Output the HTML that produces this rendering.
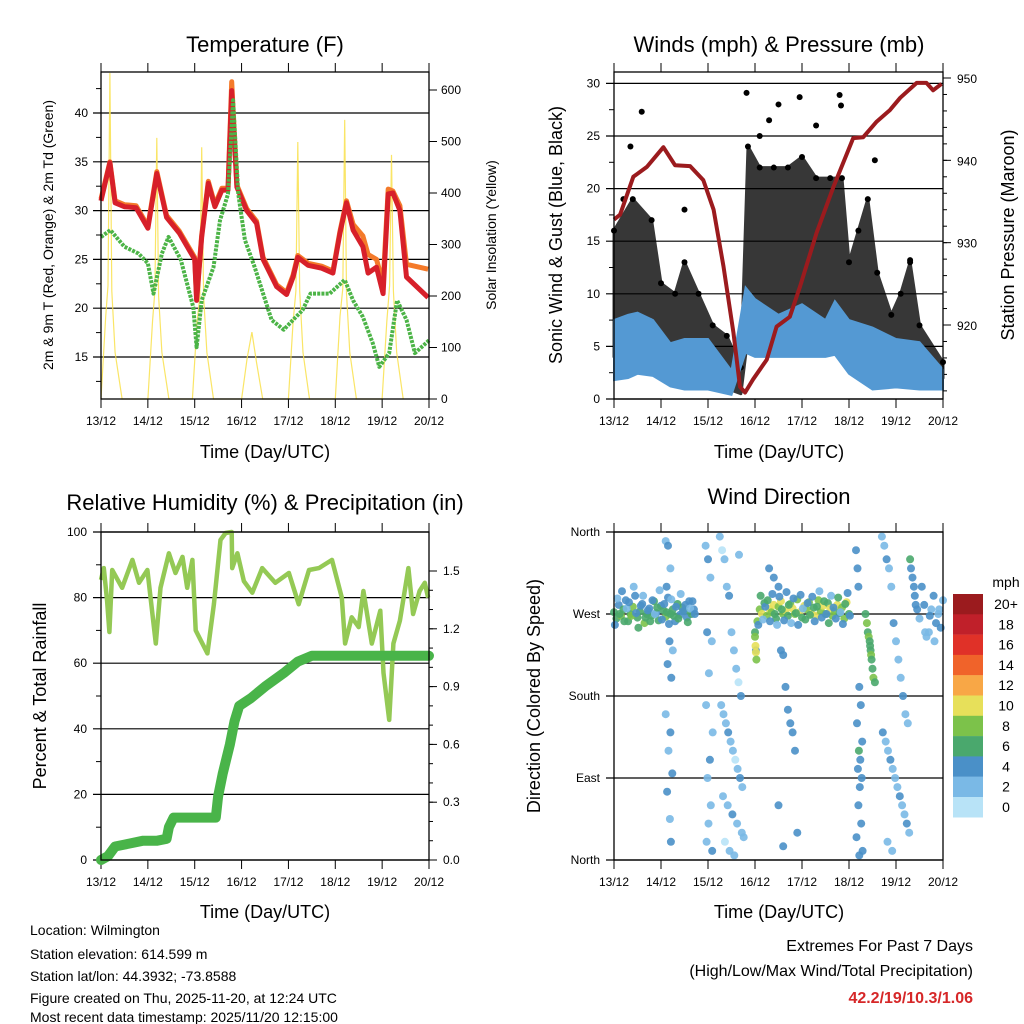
<!DOCTYPE html>
<html><head><meta charset="utf-8"><style>
html,body{margin:0;padding:0;background:#fff;}
svg{display:block;font-family:"Liberation Sans",Arial,sans-serif;}
</style></head><body>
<svg id="c" width="1024" height="1024" viewBox="0 0 1024 1024" xmlns="http://www.w3.org/2000/svg">
<g id="g"></g>
<g font-size="14" fill="#000">
<text x="30" y="935">Location: Wilmington</text>
<text x="30" y="959">Station elevation: 614.599 m</text>
<text x="30" y="981">Station lat/lon: 44.3932; -73.8588</text>
<text x="30" y="1003">Figure created on Thu, 2025-11-20, at 12:24 UTC</text>
<text x="30" y="1022">Most recent data timestamp: 2025/11/20 12:15:00</text>
</g>
<g text-anchor="end">
<text x="973" y="951" font-size="16">Extremes For Past 7 Days</text>
<text x="973" y="976" font-size="16">(High/Low/Max Wind/Total Precipitation)</text>
<text x="973" y="1003" font-size="16" font-weight="bold" fill="#d62728">42.2/19/10.3/1.06</text>
</g>
</svg>
<script>
// ---------- DATA ----------
const dayLabels = ["13/12","14/12","15/12","16/12","17/12","18/12","19/12","20/12"];
// Temperature
const tempT = [0,0.19,0.3,0.5,0.75,1.0,1.19,1.4,1.67,2.0,2.04,2.15,2.29,2.43,2.58,2.71,2.79,2.9,3.11,3.32,3.46,3.75,3.96,4.1,4.2,4.42,4.71,4.95,5.1,5.24,5.38,5.59,5.7,5.88,6.02,6.13,6.23,6.38,6.52,6.98];
const temp2m = [31,34.9,30.8,30.4,30.3,28.2,33.8,29.3,27.7,25,20.8,27.3,32.8,30.4,32.1,32.1,42.3,32.4,30,28.7,25,22.2,21.4,23.2,25.2,24.4,24.1,23.6,27.7,30.8,28,26.3,23.6,24.2,21.5,31.7,31.8,30,23.2,21.1];
const temp9m = [31.2,35,31,30.6,30.5,28.4,34,29.5,27.9,25.2,21,27.5,33,30.6,32.3,32.3,43.2,32.6,30.2,28.9,25.2,22.4,21.6,23.4,25.4,24.6,24.3,23.8,27.9,31,28.6,27.4,25.5,25,22.5,32.2,32,30.5,24.5,24];
const dewT = [0,0.2,0.5,0.8,1.0,1.12,1.3,1.44,1.7,1.97,2.04,2.15,2.4,2.54,2.71,2.82,2.93,3.07,3.28,3.46,3.64,3.9,4.1,4.3,4.47,4.71,4.88,5.2,5.38,5.59,5.8,5.94,6.15,6.32,6.52,6.7,7.0];
const dewpt = [27.3,28,26.3,25.6,24.6,21.5,25.6,27.3,25,20.1,16,20.8,24.2,29,31.7,41.3,31.7,27,24.2,21.5,18.8,17.8,18.8,19.8,21.5,21.5,21.5,22.9,20.8,19.1,16.4,14,15.4,20.8,18.8,15.4,16.7];
const solarT = [0,0.1,0.15,0.19,0.23,0.3,0.45,1.0,1.1,1.15,1.19,1.23,1.3,1.45,1.95,2.05,2.11,2.15,2.19,2.26,2.4,3.0,3.12,3.22,3.32,3.45,4.0,4.1,4.16,4.2,4.24,4.31,4.45,5.0,5.1,5.16,5.2,5.24,5.31,5.45,6.0,6.1,6.16,6.2,6.24,6.31,6.45];
const solarV = [0,160,220,633,210,90,0,0,150,210,507,200,90,0,0,150,200,489,200,90,0,0,80,130,70,0,0,150,210,499,210,90,0,0,160,215,542,205,90,0,0,150,220,474,210,90,0];
// Winds
const gustT = [0,0.4,0.8,1.0,1.3,1.5,1.8,2.1,2.4,2.7,2.85,3.1,3.4,3.7,4.0,4.3,4.6,4.85,5.0,5.2,5.4,5.6,5.9,6.1,6.3,6.5,7.0];
const gustLo = [4,5,8,6,3,4,3,2,1,0.5,6,7,7,8,8,7,6,6,5,6,6,3,3,4,3,2,2];
const gustHi = [16,19,17,11,10,13,10,7,6,3,24,22,22,22,23,21,21,21,13,16,19,12,8,10,13,7,3.5];
const outT = [0.59,2.82,3.5,3.95,4.8,4.83,0.35,1.5,3.3,5.55,6.3,3.1,4.3,0.2];
const outV = [27.3,29.1,28,28.7,28.9,27.9,24,18,26.5,22.7,13.2,25,26,19];
const sonicT = [0,0.3,0.5,0.83,1.2,1.5,2.0,2.5,2.8,3.0,3.5,4.0,4.5,4.7,5.0,5.5,6.0,6.5,7.0];
const sonicLo = [1.8,2,2.4,2.2,1.2,0.9,0.9,0.4,4.4,4,4,4,4,4.2,2.4,0.9,1.1,0.9,0.9];
const sonicHi = [7.5,8,8.2,7.5,5.3,5.7,5.7,2.7,10.6,9.5,8,9,7.5,9.3,7.5,6.8,5.7,5.4,2.8];
const presT = [0,0.13,0.41,0.7,1.05,1.3,1.62,1.9,2.12,2.33,2.54,2.68,2.79,2.96,3.25,3.46,3.74,3.96,4.31,4.67,5.09,5.3,5.59,5.87,6.09,6.44,6.65,6.79,6.97];
const presMb = [932.8,933.4,938,939.2,941.6,939.4,939.3,937.6,934,927.1,919.1,912.5,911.8,913.4,915.8,919.8,921,924.7,931.2,936.8,942.7,942.8,944.7,946.1,947.6,949.4,949.4,948.5,949.3];
// Humidity & precip
const rhT = [0,0.06,0.13,0.18,0.24,0.45,0.67,0.81,0.99,1.17,1.27,1.45,1.59,1.74,1.84,1.95,2.02,2.27,2.41,2.55,2.66,2.79,2.8,2.91,3.05,3.23,3.44,3.72,4.01,4.22,4.44,4.65,4.93,5.14,5.21,5.35,5.5,5.6,5.78,5.96,6.03,6.15,6.24,6.38,6.56,6.66,6.8,6.91,6.98];
const rhV = [85.4,89,79,69.5,88.4,83,91.5,84.5,88.4,66,83,93.5,87.5,92.4,83,91.5,70,63,78,97.6,99.7,100,89,93.5,85,81.5,89,84.5,87.5,78,88.4,89,91.5,80,66,74,71,82,66,76,57,42.7,66,73,89,75,82,84.5,80];
const prT = [0,0.15,0.3,0.5,0.9,1.2,1.4,1.45,1.55,2.45,2.5,2.6,2.75,2.85,2.95,3.2,3.5,3.9,4.2,4.5,7.0];
const prV = [0,0.02,0.07,0.08,0.1,0.1,0.11,0.17,0.22,0.22,0.33,0.45,0.6,0.72,0.8,0.84,0.9,0.97,1.03,1.06,1.06];
// Wind direction (dense bands + scattered columns)
const bandAT = [0,0.05,0.1,0.15,0.2,0.25,0.3,0.35,0.4,0.45,0.5,0.55,0.6,0.65,0.7,0.75,0.8,0.85,0.9,0.95,1.0,1.05,1.1,1.15,1.2,1.25,1.3,1.35,1.4,1.45,1.5,1.55,1.6,1.65,1.7,0.02,0.07,0.12,0.17,0.22,0.27,0.32,0.37,0.42,0.47,0.52,0.57,0.62,0.67,0.72,0.77,0.82,0.87,0.92,0.97,1.02,1.07,1.12,1.17,1.22,1.27,1.32,1.37,1.42,1.47,1.52,1.57,1.62,1.67,1.72];
const bandADir = [272,265,280,268,275,285,262,270,278,290,266,273,281,260,270,276,268,284,271,263,279,274,267,288,270,275,262,281,269,277,273,266,284,270,275,258,287,270,295,262,276,283,268,300,271,255,279,290,266,274,262,285,270,277,296,264,281,272,259,286,268,278,265,292,273,280,261,276,284,270];
const bandASpd = [5,6,4,7,5,3,6,5,8,4,6,5,3,7,5,4,6,5,3,6,4,5,7,3,5,6,4,5,3,6,5,4,3,5,4,3,2,5,4,6,2,3,7,2,4,5,3,2,6,4,5,3,2,6,2,4,3,5,4,2,6,3,5,2,4,3,6,2,4,3];
const bandBT = [3.0,3.05,3.1,3.15,3.2,3.25,3.3,3.35,3.4,3.45,3.5,3.55,3.6,3.65,3.7,3.75,3.8,3.85,3.9,3.95,4.0,4.05,4.1,4.15,4.2,4.25,4.3,4.35,4.4,4.45,4.5,4.55,4.6,4.65,4.7,4.75,4.8,4.85,4.9,4.95,5.0,3.02,3.07,3.12,3.17,3.22,3.27,3.32,3.37,3.42,3.47,3.52,3.57,3.62,3.67,3.72,3.77,3.82,3.87,3.92,3.97,4.02,4.07,4.12,4.17,4.22,4.27,4.32,4.37,4.42,4.47,4.52,4.57,4.62,4.67,4.72,4.77,4.82,4.87,4.92,4.97,5.02,3.0,3.01,3.02,3.03];
const bandBDir = [250,262,275,270,282,268,276,272,280,265,278,284,270,274,268,281,276,270,286,272,266,279,275,283,270,277,268,285,273,279,270,282,276,268,274,280,271,277,265,283,270,230,258,290,264,278,285,262,292,270,258,289,275,263,294,280,260,287,271,258,291,276,264,282,269,289,262,278,295,266,284,270,260,290,277,265,288,272,259,281,293,268,245,235,228,220];
const bandBSpd = [6,8,7,9,6,8,10,7,9,6,8,9,7,10,6,8,9,7,8,10,6,9,7,8,9,6,10,7,8,9,7,6,9,8,7,10,6,8,7,9,6,4,3,5,2,4,6,3,4,5,2,3,6,4,3,5,2,4,6,3,4,2,5,3,6,4,3,5,2,4,6,3,5,2,4,3,5,2,4,6,3,4,8,9,10,8];
const colT = [1.1,1.15,1.2,1.12,1.18,1.25,1.14,1.22,1.1,1.2,1.16,1.24,1.13,1.19,1.21,1.95,2.0,2.05,1.98,2.08,2.02,1.96,2.1,2.04,1.99,2.06,2.01,1.97,2.09,2.25,2.3,2.35,2.4,2.45,2.5,2.55,2.6,2.65,2.7,2.28,2.33,2.38,2.43,2.48,2.53,2.58,2.63,2.68,2.73,2.32,2.42,2.52,2.62,2.72,2.36,2.46,2.56,2.66,2.76,3.3,3.4,3.5,3.55,3.6,3.65,3.7,3.75,3.8,3.85,3.5,3.9,3.6];
const colDir = [350,345,320,300,240,230,215,200,160,140,120,95,75,45,20,345,330,310,250,240,205,170,140,110,90,60,40,20,10,355,340,330,300,290,250,230,210,195,180,170,160,150,140,130,120,110,100,90,80,70,60,50,40,30,20,10,5,335,25,320,310,300,230,225,190,165,150,140,120,60,30,15];
const colSpd = [2,3,2,4,3,2,3,4,2,3,2,3,4,2,3,2,3,2,3,2,2,1,2,3,2,2,1,2,3,1,0,2,1,3,2,1,2,0,3,1,2,1,3,2,1,0,2,3,1,2,1,3,2,1,0,2,1,2,1,4,4,3,4,4,4,4,3,3,4,4,3,3];
const colBT = [5.15,5.18,5.2,5.22,5.25,5.17,5.28,5.21,5.24,5.19,5.27,5.23,5.2,5.26,5.16,5.29,5.22,5.35,5.38,5.4,5.42,5.44,5.45,5.46,5.47,5.48,5.5,5.52,5.55,5.7,5.75,5.8,5.85,5.9,5.95,6.0,6.05,6.1,6.15,6.2,6.25,5.72,5.78,5.83,5.88,5.93,5.98,6.03,6.08,6.13,6.18,6.23,6.28,5.82,5.92,6.3,6.32,6.35,6.38,6.4,6.42,6.45,6.5,6.6,6.7,6.8,6.9,6.95,6.55,6.65,6.75,6.85,7.0,6.62,6.72,6.82,6.92];
const colBDir = [340,320,300,190,170,150,130,120,110,100,90,80,60,40,25,10,5,270,260,250,245,240,235,230,225,220,210,200,195,355,345,330,320,300,260,240,220,200,180,160,150,140,130,120,110,100,90,80,70,60,50,40,30,20,10,330,320,310,300,290,280,275,265,280,250,290,270,255,300,245,275,260,285,250,268,240,275];
const colBSpd = [4,4,3,3,4,4,4,5,4,4,3,4,3,4,3,4,4,6,7,6,7,6,6,6,7,6,6,7,6,1,2,3,1,2,3,2,1,2,3,1,2,3,2,1,3,2,1,2,3,1,2,3,2,1,2,6,4,4,4,4,4,3,2,4,1,3,2,4,3,1,2,3,2,1,3,2,1];
const speedColors = ["#b8e3f7","#7ab9e6","#4a90c8","#4aa86d","#7cc24a","#e7e05a","#f8a746","#f0632a","#e03128","#c0202a","#9b1b1e"];
const speedLabels = ["0","2","4","6","8","10","12","14","16","18","20+"];

// ---------- HELPERS ----------
const NS="http://www.w3.org/2000/svg";
const root=document.getElementById('g');
function mk(tag,attrs,parent){const e=document.createElementNS(NS,tag);for(const k in attrs)e.setAttribute(k,attrs[k]);(parent||root).appendChild(e);return e;}
function txt(x,y,s,size,anchor,parent,rot){const e=mk('text',{x:x,y:y,'font-size':size,'text-anchor':anchor||'middle'},parent);if(rot)e.setAttribute('transform','rotate(-90 '+x+' '+y+')');e.textContent=s;return e;}
function lin(d0,d1,r0,r1){return v=>r0+(v-d0)*(r1-r0)/(d1-d0);}
function path(xs,ys,fx,fy){return xs.map((t,i)=>(i?'L':'M')+fx(t).toFixed(1)+','+fy(ys[i]).toFixed(1)).join('');}
function frame(x0,x1,y0,y1,name){
  const g=mk('g',{});
  
  
  const fx=lin(0,7,x0,x1);
  for(let i=0;i<8;i++){
    const x=fx(i);
    mk('line',{x1:x,x2:x,y1:y1,y2:y1+9,stroke:'#000','stroke-width':1},g);
    mk('line',{x1:x,x2:x,y1:y0,y2:y0-9,stroke:'#000','stroke-width':1},g);
    const t=txt(x,y1+26,dayLabels[i],12,'middle',g);
    
    
  }
  return {g,fx};
}
function border(x0,x1,y0,y1,g){mk('rect',{x:x0,y:y0,width:x1-x0,height:y1-y0,fill:'none',stroke:'#000','stroke-width':1.3},g);}

// ---------- PANEL 1 TEMPERATURE ----------
(function(){
  const x0=101,x1=429,y0=72,y1=399;
  const {g,fx}=frame(x0,x1,y0,y1,'temperature-panel');
  const fy=lin(15,40,357,113), fs=lin(0,600,399,90);
  for(let v=15;v<=40;v+=5){const y=fy(v);mk('line',{x1:x0-8,x2:x1,y1:y,y2:y,stroke:'#000','stroke-width':1.2},g);txt(x0-13,y+4,String(v),12,'end',g);}
  for(let v=12.5;v<=42.5;v+=5){const y=fy(v);mk('line',{x1:x0-5,x2:x0,y1:y,y2:y,stroke:'#000'},g);}
  for(let v=0;v<=600;v+=100){const y=fs(v);mk('line',{x1:x1,x2:x1+8,y1:y,y2:y,stroke:'#000'},g);txt(x1+12,y+4,String(v),12,'start',g);}
  const sol=mk('path',{d:path(solarT,solarV,fx,fs),fill:'none',stroke:'#f9e04b','stroke-width':1.2,opacity:0.85},g);
  
  const o=mk('path',{d:path(tempT,temp9m,fx,fy),fill:'none',stroke:'#f47a2a','stroke-width':5,'stroke-linejoin':'round'},g);
  
  const r=mk('path',{d:path(tempT,temp2m,fx,fy),fill:'none',stroke:'#d7202a','stroke-width':5,'stroke-linejoin':'round'},g);
  
  const d=mk('path',{d:path(dewT,dewpt,fx,fy),fill:'none',stroke:'#4cb447','stroke-width':4,'stroke-dasharray':'3 1.2','stroke-linejoin':'round'},g);
  
  border(x0,x1,y0,y1,g);
  txt(265,52,'Temperature (F)',22,'middle',g);
  txt(265,458,'Time (Day/UTC)',18,'middle',g);
  txt(53,235,'2m & 9m T (Red, Orange) & 2m Td (Green)',14,'middle',g,true);
  txt(496,235,'Solar Insolation (Yellow)',14,'middle',g,true);
})();

// ---------- PANEL 2 WINDS ----------
(function(){
  const x0=614,x1=943,y0=72,y1=399;
  const {g,fx}=frame(x0,x1,y0,y1,'winds-panel');
  const fy=lin(0,30,399,83.4), fp=lin(920,950,325,78);
  for(let v=0;v<=30;v+=5){const y=fy(v);mk('line',{x1:x0-8,x2:x1,y1:y,y2:y,stroke:'#000','stroke-width':1.2},g);txt(x0-14,y+4,String(v),12,'end',g);}
  for(let v=2.5;v<=27.5;v+=5){const y=fy(v);mk('line',{x1:x0-5,x2:x0,y1:y,y2:y,stroke:'#000'},g);}
  for(let v=920;v<=950;v+=10){const y=fp(v);mk('line',{x1:x1,x2:x1+8,y1:y,y2:y,stroke:'#000'},g);txt(x1+14,y+5,String(v),12,'start',g);}
  for(let v=912;v<=952;v+=2){const y=fp(v);if(y>y0&&y<y1)mk('line',{x1:x1,x2:x1+4,y1:y,y2:y,stroke:'#000'},g);}
  const cloud=mk('path',{d:path(gustT,gustHi,fx,fy)+path(gustT.slice().reverse(),gustLo.slice().reverse(),fx,fy).replace('M','L')+'Z',fill:'#000',opacity:0.78,stroke:'#000','stroke-width':3,'stroke-linejoin':'round'},g);
  
  gustT.forEach((t,i)=>{
    const c=mk('circle',{cx:fx(t),cy:fy(gustHi[i]),r:3,fill:'#000'},g);
    
  });
  outT.forEach((t,i)=>{
    const c=mk('circle',{cx:fx(t),cy:fy(outV[i]),r:3,fill:'#000'},g);
    
  });
  const band=mk('path',{d:path(sonicT,sonicHi,fx,fy)+path(sonicT.slice().reverse(),sonicLo.slice().reverse(),fx,fy).replace('M','L')+'Z',fill:'#5499d3',stroke:'#5499d3','stroke-width':2},g);
  
  const p=mk('path',{d:path(presT,presMb,fx,fp),fill:'none',stroke:'#9b1b1e','stroke-width':4,'stroke-linejoin':'round'},g);
  
  border(x0,x1,y0,y1,g);
  txt(779,52,'Winds (mph) & Pressure (mb)',22,'middle',g);
  txt(779,458,'Time (Day/UTC)',18,'middle',g);
  txt(562,235,'Sonic Wind & Gust (Blue, Black)',18,'middle',g,true);
  txt(1014,235,'Station Pressure (Maroon)',18,'middle',g,true);
})();

// ---------- PANEL 3 RH ----------
(function(){
  const x0=101,x1=429,y0=532,y1=860;
  const {g,fx}=frame(x0,x1,y0,y1,'humidity-panel');
  const fy=lin(0,100,860,532), fp=lin(0,1.5,860,571);
  for(let v=0;v<=100;v+=20){const y=fy(v);mk('line',{x1:x0-8,x2:x1,y1:y,y2:y,stroke:'#000','stroke-width':1.2},g);txt(x0-14,y+4,String(v),12,'end',g);}
  for(let v=10;v<=90;v+=20){const y=fy(v);mk('line',{x1:x0-5,x2:x0,y1:y,y2:y,stroke:'#000'},g);}
  for(let v=0;v<=1.5001;v+=0.3){const y=fp(v);mk('line',{x1:x1,x2:x1+8,y1:y,y2:y,stroke:'#000'},g);txt(x1+14,y+4,v.toFixed(1),12,'start',g);}
  for(let v=0.1;v<=1.6;v+=0.1){const y=fp(v);mk('line',{x1:x1,x2:x1+4,y1:y,y2:y,stroke:'#000'},g);}
  const rh=mk('path',{d:path(rhT,rhV,fx,fy),fill:'none',stroke:'#94c955','stroke-width':4.5,'stroke-linejoin':'round'},g);
  
  const pr=mk('path',{d:path(prT,prV,fx,fp),fill:'none',stroke:'#49b449','stroke-width':10,'stroke-linejoin':'round','stroke-linecap':'round'},g);
  
  border(x0,x1,y0,y1,g);
  txt(265,510,'Relative Humidity (%) & Precipitation (in)',22,'middle',g);
  txt(265,918,'Time (Day/UTC)',18,'middle',g);
  txt(46,696,'Percent & Total Rainfall',18,'middle',g,true);
})();

// ---------- PANEL 4 WIND DIRECTION ----------
(function(){
  const x0=614,x1=943,y0=532,y1=860;
  const {g,fx}=frame(x0,x1,y0,y1,'wind-direction-panel');
  const fd=lin(360,0,532,860);
  const names=['North','West','South','East','North'];
  [360,270,180,90,0].forEach((v,i)=>{const y=fd(v);mk('line',{x1:x0-8,x2:x1,y1:y,y2:y,stroke:'#000','stroke-width':1.2},g);txt(x0-14,y+4,names[i],12,'end',g);});
  function dots(T,D,S){
    T.forEach((t,i)=>{
      const c=mk('circle',{cx:fx(t).toFixed(1),cy:fd(D[i]).toFixed(1),r:4,fill:speedColors[Math.min(10,Math.round(S[i]/2))],opacity:0.9},g);
      
    });
  }
  dots(colT,colDir,colSpd);dots(colBT,colBDir,colBSpd);dots(bandAT,bandADir,bandASpd);dots(bandBT,bandBDir,bandBSpd);
  border(x0,x1,y0,y1,g);
  txt(779,504,'Wind Direction',22,'middle',g);
  txt(779,918,'Time (Day/UTC)',18,'middle',g);
  txt(540,696,'Direction (Colored By Speed)',18,'middle',g,true);
  const lg=mk('g',{},root);
  
  
  txt(1006,587,'mph',14,'middle',lg);
  for(let i=10;i>=0;i--){
    const y=594+(10-i)*20.3;
    mk('rect',{x:953,y:y,width:30,height:20.5,fill:speedColors[i]},lg);
    txt(1006,y+15,speedLabels[i],14,'middle',lg);
  }
})();
</script>
</body></html>
